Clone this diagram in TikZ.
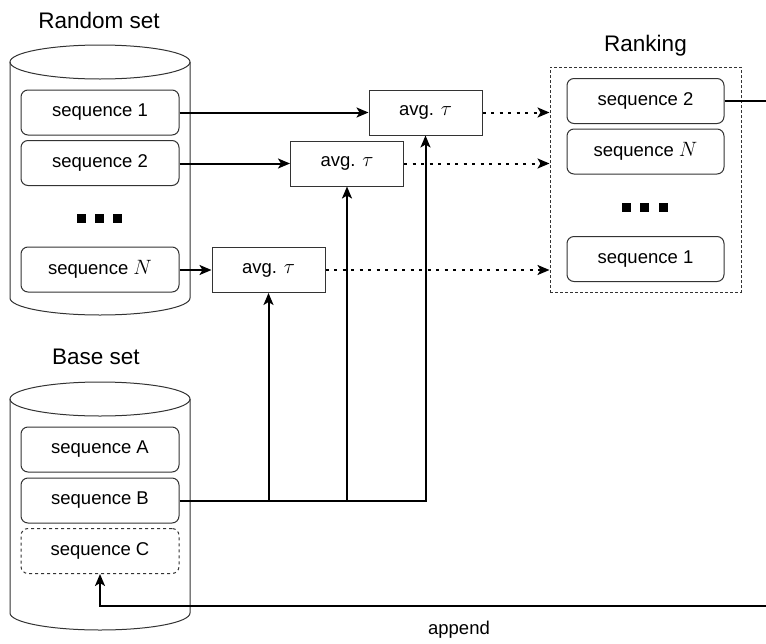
\documentclass[tikz,border=0pt]{standalone}
\usepackage{fontspec}
\setmainfont{Liberation Sans}
\usetikzlibrary{arrows.meta}
\definecolor{edge}{HTML}{333333}
\newcommand{\bigmath}[1]{{\fontsize{22}{22}\selectfont$#1$}}
\tikzset{
  seqbox/.style={draw=edge, line width=1pt, rounded corners=7pt, minimum width=158pt, minimum height=45pt, inner sep=0pt, font=\fontsize{18.5}{22}\selectfont},
  avgbox/.style={draw=edge, line width=1pt, minimum width=113pt, minimum height=45pt, inner sep=0pt, font=\fontsize{18.5}{22}\selectfont},
  title/.style={font=\fontsize{22.5}{26}\selectfont, inner sep=0pt},
  sq/.style={fill=black, minimum size=9pt, inner sep=0pt},
  arr/.style={line width=2pt, -{Stealth[length=12pt,width=10pt,inset=3pt]}},
  dotarr/.style={arr, dash pattern=on 3pt off 5.5pt},
  cyl/.style={draw=edge, line width=1pt}
}
\begin{document}
\begin{tikzpicture}[x=1pt,y=1pt]
\useasboundingbox (0,0) rectangle (766,-643);

% titles
\node[title] (trand) at (99,-20) {Random set};
\node[title] (tbase) at (96,-357) {Base set};
\node[title] (trank) at (645.5,-46) {Ranking};

% random set cylinder
\draw[cyl] (10,-62) -- (10,-298) arc[start angle=180, end angle=360, x radius=90pt, y radius=17pt] -- (190,-62);
\draw[cyl] (100,-62) ellipse [x radius=90pt, y radius=17pt];

% base set cylinder
\draw[cyl] (10,-399) -- (10,-613) arc[start angle=180, end angle=360, x radius=90pt, y radius=17pt] -- (190,-399);
\draw[cyl] (100,-399) ellipse [x radius=90pt, y radius=17pt];

% random set sequences
\node[seqbox] (s1) at (100,-112.5) {sequence 1};
\node[seqbox] (s2) at (100,-163) {sequence 2};
\node[sq] (rd1) at (81.5,-218.5) {};
\node[sq] (rd2) at (99.5,-218.5) {};
\node[sq] (rd3) at (117.5,-218.5) {};
\node[seqbox] (sN) at (100,-269.5) {sequence \bigmath{N}};

% base set sequences
\node[seqbox] (sA) at (100,-449.5) {sequence A};
\node[seqbox] (sB) at (100,-500.5) {sequence B};
\node[seqbox, dashed] (sC) at (100,-551) {sequence C};

% avg boxes
\node[avgbox] (a1) at (425.5,-112.5) {avg. \bigmath{\tau}};
\node[avgbox] (a2) at (347,-163.5) {avg. \bigmath{\tau}};
\node[avgbox] (aN) at (268.5,-270) {avg. \bigmath{\tau}};

% ranking
\node[draw=edge, line width=1pt, dash pattern=on 3pt off 2pt, minimum width=191pt, minimum height=225pt, inner sep=0pt] (rank) at (645.5,-179.5) {};
\node[seqbox, minimum width=157pt] (r2) at (645.5,-101) {sequence 2};
\node[seqbox, minimum width=157pt] (rN) at (645.5,-151.5) {sequence \bigmath{N}};
\node[sq] (kd1) at (626,-207.5) {};
\node[sq] (kd2) at (644.5,-207.5) {};
\node[sq] (kd3) at (663,-207.5) {};
\node[seqbox, minimum width=157pt] (r1) at (645.5,-259) {sequence 1};

% connectors
\draw[arr] (s1.east) -- (a1.west);
\draw[arr] (s2.east |- a2) -- (a2.west);
\draw[arr] (sN.east |- aN) -- (aN.west);

\draw[dotarr] (a1.east) -- (rank.west |- a1);
\draw[dotarr] (a2.east) -- (rank.west |- a2);
\draw[dotarr] (aN.east) -- (rank.west |- aN);

\draw[arr] (sB.east) -| (a1.south);
\draw[arr] (sB.east -| a2.south) -- (a2.south);
\draw[arr] (sB.east -| aN.south) -- (aN.south);

\coordinate (outR) at (766,-101);
\coordinate (inR) at (766,-606);
\draw[line width=2pt] (r2.east) -- (outR);
\draw[arr] (inR) -| (sC.south);
\node[font=\fontsize{18.5}{22}\selectfont, inner sep=0pt] (app) at (459,-630) {append};
\end{tikzpicture}
\end{document}
